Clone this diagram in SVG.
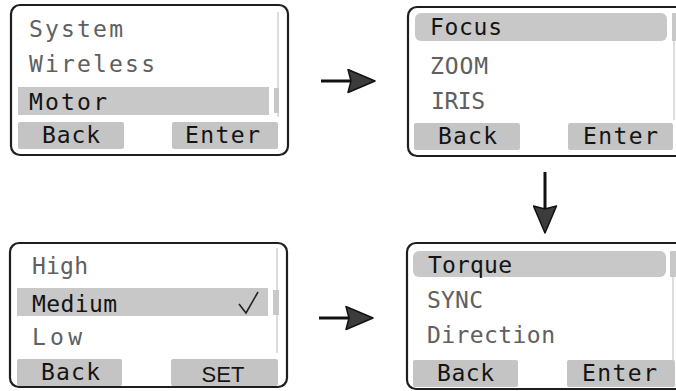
<svg xmlns="http://www.w3.org/2000/svg" width="676" height="391" viewBox="0 0 676 391">
<defs>
<style>
.frame{fill:#fff;stroke:#1e1e1e;stroke-width:2.2}
.bar{fill:#c8c8c8}
.btn{fill:#c4c4c4}
.track{stroke:#d2d2d2;stroke-width:1.5}
.thumb{fill:#c8c8c8}
.t{font-family:"DejaVu Sans Mono","Liberation Mono",monospace;font-size:23px}
.dim{fill:#606060}
.dark{fill:#141414}
.conn{stroke:#111;stroke-width:3;fill:none}
</style>
<marker id="ah" viewBox="0 0 29 25" refX="10" refY="12.5" markerWidth="29" markerHeight="25" markerUnits="userSpaceOnUse" orient="auto">
<path d="M1,1 L28,12.5 L1,24 L4,12.5 Z" fill="#3c3c3c" stroke="#111" stroke-width="1.5" stroke-linejoin="round"/>
</marker>
</defs>
<rect width="676" height="391" fill="#fff"/>

<g id="menu-main">
<rect class="frame" x="11" y="5" width="277" height="150" rx="9"/>
<line class="track" x1="278" y1="12" x2="278" y2="117"/>
<rect class="thumb" x="274" y="88" width="5" height="25"/>
<rect class="bar" x="18" y="87" width="251" height="28"/>
<rect class="btn" x="18" y="122" width="106" height="27" rx="2"/>
<rect class="btn" x="172" y="122" width="106" height="27" rx="2"/>
<text class="t dim" x="29" y="37" textLength="94">System</text>
<text class="t dim" x="29" y="72" textLength="126">Wireless</text>
<text class="t dark" x="29" y="110" textLength="78">Motor</text>
<text class="t dark" x="42" y="143" textLength="58">Back</text>
<text class="t dark" x="185" y="143" textLength="75">Enter</text>
</g>

<g id="menu-motor">
<rect class="frame" x="408" y="7" width="290" height="149" rx="9"/>
<line class="track" x1="674" y1="13" x2="674" y2="120"/>
<rect class="thumb" x="672" y="13" width="6" height="28"/>
<rect class="bar" x="415" y="13" width="252" height="28" rx="6"/>
<rect class="btn" x="414" y="123" width="106" height="27" rx="2"/>
<rect class="btn" x="568" y="123" width="105" height="27" rx="2"/>
<text class="t dark" x="430" y="35" textLength="72">Focus</text>
<text class="t dim" x="430" y="74" textLength="58">ZOOM</text>
<text class="t dim" x="431" y="109" textLength="54">IRIS</text>
<text class="t dark" x="438" y="144" textLength="59">Back</text>
<text class="t dark" x="583" y="144" textLength="75">Enter</text>
</g>

<g id="menu-torque">
<rect class="frame" x="407" y="243" width="290" height="146" rx="9"/>
<line class="track" x1="673" y1="251" x2="673" y2="360"/>
<rect class="thumb" x="670" y="251" width="7" height="26"/>
<rect class="bar" x="413" y="251" width="253" height="26" rx="6"/>
<rect class="btn" x="413" y="360" width="105" height="27" rx="2"/>
<rect class="btn" x="567" y="360" width="108" height="27" rx="2"/>
<text class="t dark" x="428" y="273" textLength="84">Torque</text>
<text class="t dim" x="427" y="308" textLength="56">SYNC</text>
<text class="t dim" x="427" y="343" textLength="128">Direction</text>
<text class="t dark" x="437" y="381" textLength="57">Back</text>
<text class="t dark" x="582" y="381" textLength="75">Enter</text>
</g>

<g id="menu-level">
<rect class="frame" x="10" y="243" width="277" height="144" rx="9"/>
<line class="track" x1="277" y1="248" x2="277" y2="353"/>
<rect class="thumb" x="273" y="290" width="6" height="25"/>
<rect class="bar" x="17" y="288" width="251" height="28"/>
<rect class="btn" x="17" y="359" width="105" height="27" rx="2"/>
<rect class="btn" x="171" y="359" width="107" height="27" rx="2"/>
<text class="t dim" x="32" y="274" textLength="56">High</text>
<text class="t dark" x="32" y="312" textLength="85">Medium</text>
<path d="M239,304 L246,313 L258,292" fill="none" stroke="#222" stroke-width="1.6"/>
<text class="t dim" x="32" y="345" textLength="50">Low</text>
<text class="t dark" x="41" y="380" textLength="59">Back</text>
<text x="223" y="382" text-anchor="middle" font-family="Liberation Sans, Arial, sans-serif" font-size="22" fill="#141414">SET</text>
</g>

<g id="connectors">
<line class="conn" x1="321" y1="81" x2="357" y2="81" marker-end="url(#ah)"/>
<line class="conn" x1="545" y1="172" x2="545" y2="215" marker-end="url(#ah)"/>
<line class="conn" x1="319" y1="318" x2="355" y2="318" marker-end="url(#ah)"/>
</g>
</svg>
